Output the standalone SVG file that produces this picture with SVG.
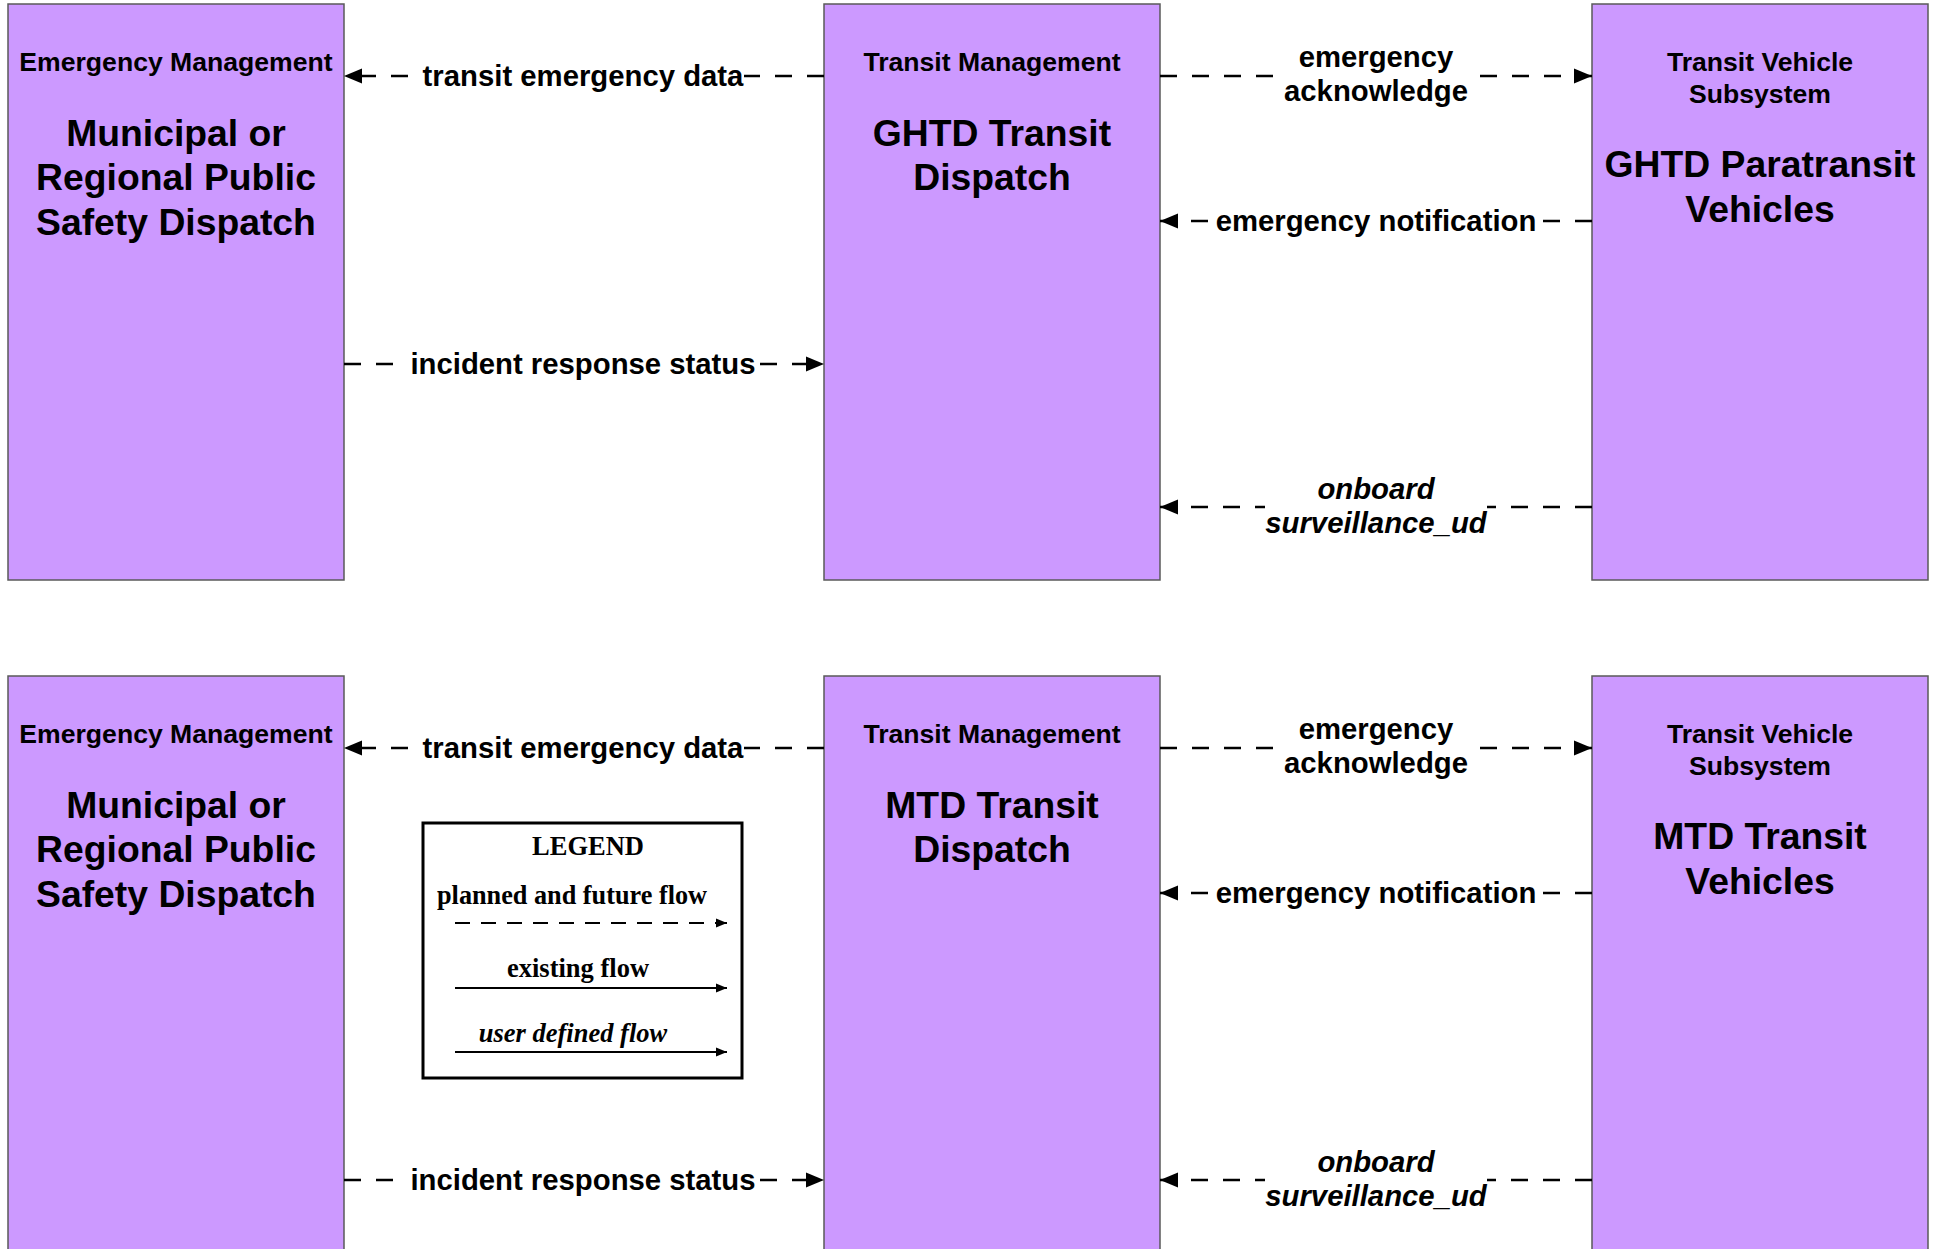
<svg xmlns="http://www.w3.org/2000/svg" width="1937" height="1249" viewBox="0 0 1937 1249">
<style>
.box{fill:#CC99FF;stroke:#5a5a5a;stroke-width:1.5}
.t1{font-family:"Liberation Sans",Arial,sans-serif;font-weight:bold;font-size:26.6px;text-anchor:middle;fill:#000}
.t2{font-family:"Liberation Sans",Arial,sans-serif;font-weight:bold;font-size:37.3px;text-anchor:middle;fill:#000}
.lbl{font-family:"Liberation Sans",Arial,sans-serif;font-weight:bold;font-size:29.3px;text-anchor:middle;fill:#000}
.it{font-style:italic}
.flow{stroke:#000;stroke-width:2.5;fill:none;stroke-dasharray:17 15}
.bg{fill:#fff}
.lg{font-family:"Liberation Serif","Times New Roman",serif;font-weight:bold;font-size:26.5px;text-anchor:middle;fill:#000}
</style>
<defs>
<marker id="ah" markerUnits="userSpaceOnUse" markerWidth="18" markerHeight="16" refX="18" refY="8" orient="auto">
<path d="M0,0.5 L18,8 L0,15.5 z" fill="#000"/>
</marker>
<marker id="ahs" markerUnits="userSpaceOnUse" markerWidth="11" markerHeight="10" refX="11" refY="5" orient="auto">
<path d="M0,0.5 L11,5 L0,9.5 z" fill="#000"/>
</marker>
</defs>
<rect width="1937" height="1249" fill="#fff"/>

<!-- Top row nodes -->
<g id="node-psd-1">
<rect class="box" x="8" y="4" width="336" height="576"/>
<text class="t1" x="176" y="71">Emergency Management</text>
<text class="t2" x="176" y="145.5">Municipal or</text>
<text class="t2" x="176" y="190">Regional Public</text>
<text class="t2" x="176" y="234.5">Safety Dispatch</text>
</g>
<g id="node-ghtd-dispatch">
<rect class="box" x="824" y="4" width="336" height="576"/>
<text class="t1" x="992" y="71">Transit Management</text>
<text class="t2" x="992" y="145.5">GHTD Transit</text>
<text class="t2" x="992" y="190">Dispatch</text>
</g>
<g id="node-ghtd-vehicles">
<rect class="box" x="1592" y="4" width="336" height="576"/>
<text class="t1" x="1760" y="71">Transit Vehicle</text>
<text class="t1" x="1760" y="102.5">Subsystem</text>
<text class="t2" x="1760" y="176.5">GHTD Paratransit</text>
<text class="t2" x="1760" y="221.5">Vehicles</text>
</g>

<!-- Bottom row nodes -->
<g id="node-psd-2">
<rect class="box" x="8" y="676" width="336" height="590"/>
<text class="t1" x="176" y="743">Emergency Management</text>
<text class="t2" x="176" y="817.5">Municipal or</text>
<text class="t2" x="176" y="862">Regional Public</text>
<text class="t2" x="176" y="906.5">Safety Dispatch</text>
</g>
<g id="node-mtd-dispatch">
<rect class="box" x="824" y="676" width="336" height="590"/>
<text class="t1" x="992" y="743">Transit Management</text>
<text class="t2" x="992" y="817.5">MTD Transit</text>
<text class="t2" x="992" y="862">Dispatch</text>
</g>
<g id="node-mtd-vehicles">
<rect class="box" x="1592" y="676" width="336" height="590"/>
<text class="t1" x="1760" y="743">Transit Vehicle</text>
<text class="t1" x="1760" y="774.5">Subsystem</text>
<text class="t2" x="1760" y="848.5">MTD Transit</text>
<text class="t2" x="1760" y="893.5">Vehicles</text>
</g>

<!-- Connectors -->
<g id="connectors">
<!-- top -->
<line class="flow" x1="824" y1="76" x2="344" y2="76" marker-end="url(#ah)"/>
<rect class="bg" x="420" y="61" width="324" height="32"/>
<text class="lbl" x="583" y="86">transit emergency data</text>

<line class="flow" x1="344" y1="364" x2="824" y2="364" marker-end="url(#ah)"/>
<rect class="bg" x="408" y="349" width="349" height="32"/>
<text class="lbl" x="583" y="374">incident response status</text>

<line class="flow" x1="1160" y1="76" x2="1592" y2="76" marker-end="url(#ah)"/>
<rect class="bg" x="1274" y="43" width="206" height="66"/>
<text class="lbl" x="1376" y="67">emergency</text>
<text class="lbl" x="1376" y="101">acknowledge</text>

<line class="flow" x1="1592" y1="221" x2="1160" y2="221" marker-end="url(#ah)"/>
<rect class="bg" x="1214" y="206" width="323" height="32"/>
<text class="lbl" x="1376" y="231">emergency notification</text>

<line class="flow" x1="1592" y1="507" x2="1160" y2="507" marker-end="url(#ah)"/>
<rect class="bg" x="1265" y="474" width="222" height="66"/>
<text class="lbl it" x="1376" y="499">onboard</text>
<text class="lbl it" x="1376" y="533">surveillance_ud</text>

<!-- bottom -->
<line class="flow" x1="824" y1="748" x2="344" y2="748" marker-end="url(#ah)"/>
<rect class="bg" x="420" y="733" width="324" height="32"/>
<text class="lbl" x="583" y="758">transit emergency data</text>

<line class="flow" x1="344" y1="1180" x2="824" y2="1180" marker-end="url(#ah)"/>
<rect class="bg" x="408" y="1165" width="349" height="32"/>
<text class="lbl" x="583" y="1190">incident response status</text>

<line class="flow" x1="1160" y1="748" x2="1592" y2="748" marker-end="url(#ah)"/>
<rect class="bg" x="1274" y="715" width="206" height="66"/>
<text class="lbl" x="1376" y="739">emergency</text>
<text class="lbl" x="1376" y="773">acknowledge</text>

<line class="flow" x1="1592" y1="893" x2="1160" y2="893" marker-end="url(#ah)"/>
<rect class="bg" x="1214" y="878" width="323" height="32"/>
<text class="lbl" x="1376" y="903">emergency notification</text>

<line class="flow" x1="1592" y1="1180" x2="1160" y2="1180" marker-end="url(#ah)"/>
<rect class="bg" x="1265" y="1147" width="222" height="66"/>
<text class="lbl it" x="1376" y="1172">onboard</text>
<text class="lbl it" x="1376" y="1206">surveillance_ud</text>
</g>

<!-- Legend -->
<g id="legend">
<rect x="423" y="823" width="319" height="255" fill="#fff" stroke="#000" stroke-width="3"/>
<text class="lg" x="588" y="855">LEGEND</text>
<text class="lg" x="572" y="904" textLength="270" lengthAdjust="spacingAndGlyphs">planned and future flow</text>
<line x1="455" y1="923" x2="727" y2="923" stroke="#000" stroke-width="2.2" stroke-dasharray="15 11" marker-end="url(#ahs)"/>
<text class="lg" x="578" y="977">existing flow</text>
<line x1="455" y1="988" x2="727" y2="988" stroke="#000" stroke-width="2.2" marker-end="url(#ahs)"/>
<text class="lg it" x="573" y="1042">user defined flow</text>
<line x1="455" y1="1052" x2="727" y2="1052" stroke="#000" stroke-width="2.2" marker-end="url(#ahs)"/>
</g>
</svg>
